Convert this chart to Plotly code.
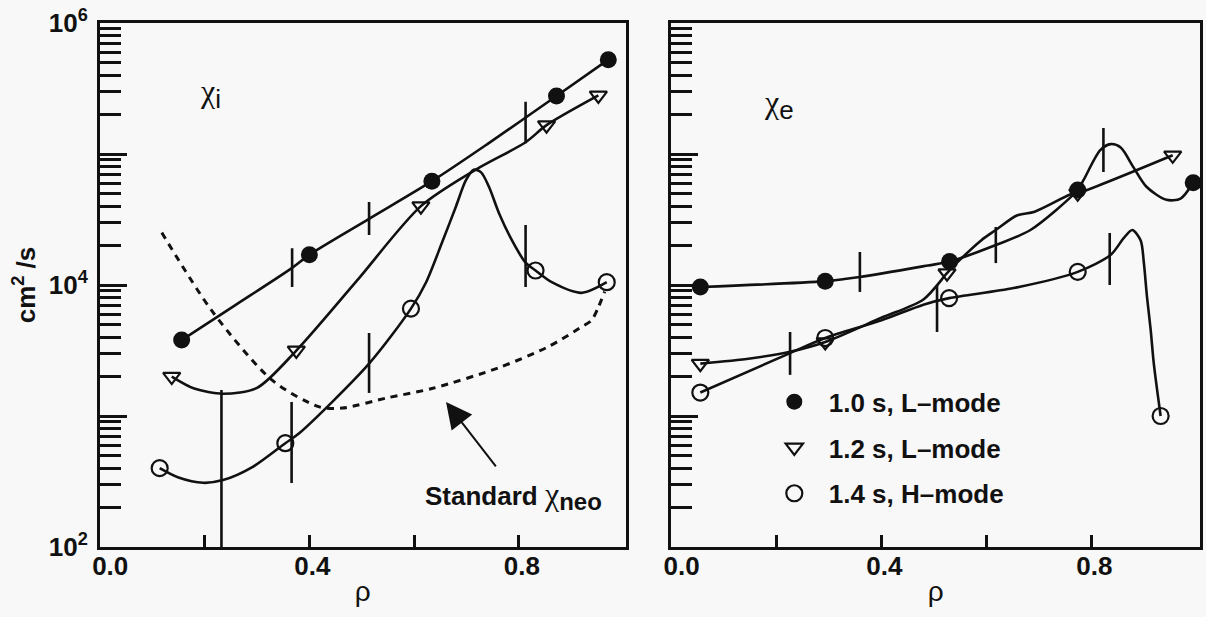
import plotly.graph_objects as go

# ---------------- data ----------------
# Left panel: chi_i
i10_rho = [0.156, 0.400, 0.634, 0.872, 0.971]
i10_val = [3800, 17000, 62000, 277000, 525000]
i12_rho = [0.137, 0.375, 0.613, 0.853, 0.952]
i12_val = [2000, 3170, 40000, 166000, 280000]
i14_rho = [0.114, 0.354, 0.594, 0.832, 0.968]
i14_val = [400, 620, 6600, 12900, 10500]

# fitted curves (left)
fi10_rho = [0.156, 0.26, 0.367, 0.40, 0.514, 0.634, 0.74, 0.872, 0.971]
fi10_val = [3800, 7080, 13500, 17000, 32000, 62000, 119000, 277000, 525000]
fi12_rho = [0.137, 0.18, 0.235, 0.30, 0.375, 0.49, 0.613, 0.718, 0.813, 0.853, 0.952]
fi12_val = [2000, 1620, 1480, 1640, 3160, 10700, 40000, 76000, 123000, 166000, 280000]
fi14_rho = [0.114, 0.15, 0.197, 0.235, 0.291, 0.354, 0.381, 0.514, 0.594, 0.623, 0.653, 0.68, 0.699,
            0.714, 0.728, 0.743, 0.762, 0.787, 0.813, 0.832, 0.863, 0.92, 0.968]
fi14_val = [400, 339, 309, 324, 407, 620, 741, 2510, 6600, 10500, 20900, 39800, 63100,
            75900, 72400, 56200, 35500, 21900, 14800, 12900, 10500, 8710, 10500]
neo_rho = [0.118, 0.216, 0.33, 0.419, 0.463, 0.55, 0.634, 0.762, 0.857, 0.92, 0.939, 0.952, 0.964]
neo_val = [25100, 6170, 1860, 1175, 1150, 1380, 1620, 2340, 3390, 4790, 5370, 6760, 8900]

# error bars (left)
ebl_rho = [0.367, 0.514, 0.813, 0.232, 0.366, 0.514, 0.813]
ebl_lo = [9660, 24100, 121000, 100, 308, 1500, 9660]
ebl_hi = [19100, 43000, 250000, 1580, 1280, 4300, 28700]

# Right panel: chi_e
e10_rho = [0.055, 0.293, 0.530, 0.774, 0.994]
e10_val = [9660, 10700, 15100, 53100, 60300]
e12_rho = [0.055, 0.293, 0.525, 0.774, 0.955]
e12_val = [2510, 3670, 12300, 50100, 97700]
e14_rho = [0.055, 0.293, 0.529, 0.774, 0.932]
e14_val = [1510, 3940, 7940, 12600, 1000]

fe10_rho = [0.055, 0.293, 0.359, 0.489, 0.530, 0.618, 0.684, 0.774, 0.785, 0.817, 0.837,
            0.856, 0.880, 0.905, 0.943, 0.970, 0.994]
fe10_val = [9660, 10700, 11500, 14100, 15100, 20200, 26300, 53100, 63100, 107000, 119000,
            112000, 79400, 56200, 44700, 45700, 60300]
fe12_rho = [0.055, 0.15, 0.226, 0.293, 0.40, 0.48, 0.525, 0.544, 0.59, 0.618, 0.658, 0.692,
            0.760, 0.774, 0.955]
fe12_val = [2510, 2750, 3090, 3670, 5620, 7760, 12300, 14800, 21900, 26300, 33900, 36300,
            49000, 50100, 97700]
fe14_rho = [0.055, 0.226, 0.293, 0.40, 0.48, 0.529, 0.652, 0.774, 0.837, 0.862, 0.878, 0.894,
            0.900, 0.906, 0.913, 0.919, 0.932]
fe14_val = [1510, 3020, 3940, 5370, 7080, 7940, 9480, 12600, 17000, 22900, 26300, 21900,
            14800, 8130, 4570, 2510, 1000]

ebr_rho = [0.359, 0.226, 0.506, 0.618, 0.823, 0.835]
ebr_lo = [8850, 2060, 4380, 14700, 72900, 10000]
ebr_hi = [17900, 4380, 10000, 27700, 158000, 24900]

series_names = ["1.0 s, L\u2013mode", "1.2 s, L\u2013mode", "1.4 s, H\u2013mode"]
x_tickvals = [0, 0.2, 0.4, 0.6, 0.8]
x_ticktext = ["\u00a0\u00a00.0", "", "0.4", "", "0.8"]
y_tickvals = [1e2, 1e3, 1e4, 1e5, 1e6]
y_ticktext = ["10<sup>2</sup>", "", "10<sup>4</sup>", "", "10<sup>6</sup>"]
y_minor = [k * 10 ** d for d in range(2, 6) for k in range(2, 10)]

# ---------------- styles ----------------
INK = "#111111"
BG = "#f8f8f8"
FONT = "Liberation Sans, Arial, sans-serif"
LW = 2.6

fig = go.Figure()


def curve(xs, ys, xa, ya, dash=None):
    fig.add_trace(go.Scatter(x=xs, y=ys, xaxis=xa, yaxis=ya, mode="lines",
                             line=dict(color=INK, width=LW if dash is None else 3,
                                       shape="spline", smoothing=0.8, dash=dash),
                             showlegend=False, hoverinfo="skip"))


def errbars(rs, lo, hi, xa, ya):
    xs, ys = [], []
    for r, a, b in zip(rs, lo, hi):
        xs += [r, r, None]
        ys += [a, b, None]
    fig.add_trace(go.Scatter(x=xs, y=ys, xaxis=xa, yaxis=ya, mode="lines",
                             line=dict(color=INK, width=LW), showlegend=False,
                             hoverinfo="skip"))


sym = [dict(symbol="circle", size=17, color=INK, line=dict(width=0)),
       dict(symbol="triangle-down-open", size=15, color=INK, line=dict(width=2.2, color=INK)),
       dict(symbol="circle-open", size=16, color=INK, line=dict(width=2.2, color=INK))]

# left panel
curve(fi10_rho, fi10_val, "x", "y")
curve(fi12_rho, fi12_val, "x", "y")
curve(fi14_rho, fi14_val, "x", "y")
curve(neo_rho, neo_val, "x", "y", dash="7px,6px")
errbars(ebl_rho, ebl_lo, ebl_hi, "x", "y")
for k, (xs, ys) in enumerate([(i10_rho, i10_val), (i12_rho, i12_val), (i14_rho, i14_val)]):
    fig.add_trace(go.Scatter(x=xs, y=ys, xaxis="x", yaxis="y", mode="markers",
                             marker=sym[k], name=series_names[k], legendgroup=f"g{k}",
                             showlegend=False))

# right panel
curve(fe10_rho, fe10_val, "x2", "y2")
curve(fe12_rho, fe12_val, "x2", "y2")
curve(fe14_rho, fe14_val, "x2", "y2")
errbars(ebr_rho, ebr_lo, ebr_hi, "x2", "y2")
for k, (xs, ys) in enumerate([(e10_rho, e10_val), (e12_rho, e12_val), (e14_rho, e14_val)]):
    fig.add_trace(go.Scatter(x=xs, y=ys, xaxis="x2", yaxis="y2", mode="markers",
                             marker=sym[k], name="\u00a0\u00a0" + series_names[k],
                             legendgroup=f"g{k}", showlegend=True))

axis_common = dict(showline=True, mirror=True, linecolor=INK, linewidth=3, showgrid=False,
                   zeroline=False, ticks="inside", tickcolor=INK, tickwidth=2.5)
tickfont = dict(family=FONT, size=26, color=INK, weight="bold")

xcommon = dict(axis_common, tickmode="array", tickvals=x_tickvals, ticktext=x_ticktext,
               ticklen=12, tickfont=tickfont, ticklabelshift=3, ticklabelstandoff=-6,
               title=dict(text="\u03c1", font=dict(family=FONT, size=28, color=INK), standoff=2))
ycommon = dict(axis_common, type="log", range=[2, 6], tickmode="array", tickvals=y_tickvals,
               ticktext=y_ticktext, ticklen=27, tickfont=tickfont,
               minor=dict(tickmode="array", tickvals=y_minor, ticks="inside", ticklen=21,
                          tickwidth=2.5, tickcolor=INK, showgrid=False))

CHI = "<span style='font-family:\"Liberation Serif\",\"DejaVu Serif\",serif;font-size:32px'>\u03c7</span>"

fig.update_layout(
    width=1206, height=617,
    margin=dict(l=100, r=3, t=23, b=70),
    paper_bgcolor=BG, plot_bgcolor=BG,
    font=dict(family=FONT, size=26, color=INK),
    xaxis=dict(xcommon, domain=[0, 0.4778], range=[0, 1.004], anchor="y"),
    xaxis2=dict(xcommon, domain=[0.5195, 1.0], range=[0, 1.007], anchor="y2"),
    yaxis=dict(ycommon, domain=[0, 1], anchor="x", ticklabelstandoff=4,
               title=dict(text="cm<sup>2</sup> /s", font=dict(family=FONT, size=26, color=INK,
                                                             weight="bold"), standoff=6)),
    yaxis2=dict(ycommon, domain=[0, 1], anchor="x2", showticklabels=False),
    legend=dict(x=0.613, y=0.322, xanchor="left", yanchor="top", bgcolor="rgba(0,0,0,0)",
                font=dict(family=FONT, size=26, color=INK, weight="bold"),
                tracegroupgap=9, itemsizing="trace"),
    showlegend=True,
    annotations=[
        dict(xref="x", yref="y", x=0.211, y=5.46,
             text=CHI + "<sub><span style='font-size:26px'>i</span></sub>", showarrow=False,
             font=dict(family=FONT, size=30, color=INK), xanchor="center", yanchor="middle"),
        dict(xref="x2", yref="y2", x=0.205, y=5.38,
             text=CHI + "<sub><span style='font-size:26px'>e</span></sub>", showarrow=False,
             font=dict(family=FONT, size=30, color=INK), xanchor="center", yanchor="middle"),
        dict(xref="x", yref="y", x=0.79, y=2.39,
             text="<b>Standard</b> " + CHI
                  + "<sub><b><span style='font-size:24px'>neo</span></b></sub>",
             showarrow=False,
             font=dict(family=FONT, size=26, color=INK), xanchor="center", yanchor="middle"),
        dict(xref="x", yref="y", x=0.661, y=3.107, text="", showarrow=True, ax=51, ay=66,
             arrowhead=2, arrowsize=2.6, arrowwidth=2, arrowcolor=INK),
    ],
)

fig.write_html("out.html")
